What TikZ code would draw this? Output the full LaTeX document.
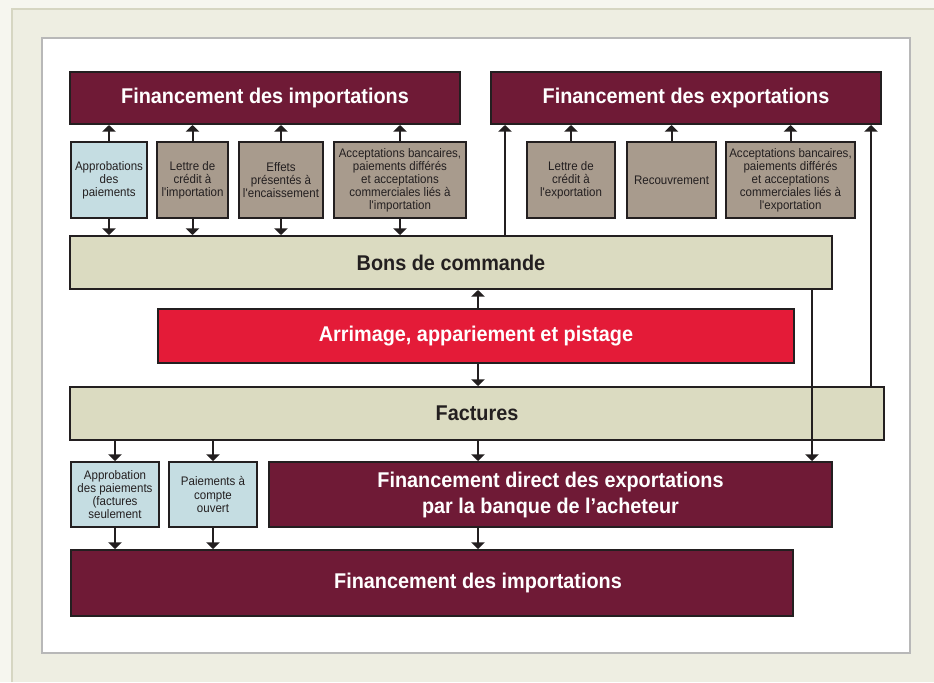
\documentclass[tikz,border=0pt]{standalone}
\usepackage{fontspec}
\setmainfont{Liberation Sans}[FakeStretch=0.93]
\usetikzlibrary{arrows.meta}
\definecolor{ink}{HTML}{231F20}
\definecolor{maroon}{HTML}{6F1A36}
\definecolor{redc}{HTML}{E41B38}
\definecolor{tan}{HTML}{A89B8D}
\definecolor{lblue}{HTML}{C5DDE2}
\definecolor{beige}{HTML}{DBDBC1}
\definecolor{pagelight}{HTML}{F6F6EF}
\definecolor{panel}{HTML}{EEEEE2}
\definecolor{panelline}{HTML}{D6D6C2}
\definecolor{frame}{HTML}{B8B8B8}
\newcommand{\mybox}[6]{\node[#1, minimum width={(#4-#2)*0.75pt}, minimum height={(#5-#3)*0.75pt}] (#6) at ({(#2+#4)/2},{(#3+#5)/2})}
\begin{document}
\begin{tikzpicture}[x=0.75pt,y=-0.75pt,
  box/.style={draw=ink, line width=1.5pt, inner sep=1pt, align=center},
  bigtext/.style={font=\fontsize{16}{19.5}\selectfont\bfseries},
  maroonbox/.style={box, bigtext, fill=maroon, text=white},
  redbox/.style={box, bigtext, fill=redc, text=white},
  beigebox/.style={box, bigtext, fill=beige, text=ink},
  smalltext/.style={font=\fontsize{9.3}{9.8}\selectfont, text=ink},
  tanbox/.style={box, smalltext, fill=tan},
  bluebox/.style={box, smalltext, fill=lblue},
  arr/.style={line width=1.5pt, draw=ink, -{Triangle[width=10pt,length=5pt]}}
]
\useasboundingbox (0,0) rectangle (934,682);
\fill[pagelight] (0,0) rectangle (934,682);
\fill[panel] (12,9) rectangle (934,682);
\draw[panelline, line width=0.8pt] (12,682) -- (12,9) -- (934,9);
\filldraw[fill=white, draw=frame, line width=1.5pt] (42,38) rectangle (910,653);

% top row
\mybox{maroonbox}{70}{72}{460}{124}{fi} {Financement des importations};
\mybox{maroonbox}{491}{72}{881}{124}{fe} {Financement des exportations};

% import small boxes
\mybox{bluebox}{71}{142}{147}{218}{i1} {Approbations\\des\\paiements};
\mybox{tanbox}{157}{142}{228}{218}{i2} {Lettre de\\crédit à\\l\textquotesingle importation};
\mybox{tanbox}{239}{142}{323}{218}{i3} {Effets\\présentés à\\l\textquotesingle encaissement};
\mybox{tanbox}{334}{142}{466}{218}{i4} {Acceptations bancaires,\\paiements différés\\et acceptations\\commerciales liés à\\l\textquotesingle importation};

% export small boxes
\mybox{tanbox}{527}{142}{615}{218}{e1} {Lettre de\\crédit à\\l\textquotesingle exportation};
\mybox{tanbox}{627}{142}{716}{218}{e2} {Recouvrement};
\mybox{tanbox}{726}{142}{855}{218}{e3} {Acceptations bancaires,\\paiements différés\\et acceptations\\commerciales liés à\\l\textquotesingle exportation};

% middle
\mybox{beigebox}{70}{236}{832}{289}{bons} {Bons de commande};
\mybox{redbox}{158}{309}{794}{363}{pist} {Arrimage, appariement et pistage};
\mybox{beigebox}{70}{387}{884}{440}{fac} {Factures};

% lower row
\mybox{bluebox}{71}{462}{159}{527}{b1} {Approbation\\des paiements\\(factures\\seulement};
\mybox{bluebox}{169}{462}{257}{527}{b2} {Paiements à\\compte\\ouvert};
\mybox{maroonbox}{269}{462}{832}{527}{fd} {Financement direct des exportations\\par la banque de l’acheteur};

% bottom
\mybox{maroonbox}{71}{550}{793}{616}{fb} {};
\node[bigtext, text=white] (fbt) at (478,583) {Financement des importations};

% coordinates for vertical connectors
\coordinate (xL) at (505,0);
\coordinate (xR) at (871,0);
\coordinate (xM) at (478,0);
\coordinate (xD) at (812,0);

% import arrows
\foreach \n in {i1,i2,i3,i4}{
  \draw[arr] (\n.north) -- (\n.north |- fi.south);
  \draw[arr] (\n.south) -- (\n.south |- bons.north);
}
% export arrows
\foreach \n in {e1,e2,e3}{
  \draw[arr] (\n.north) -- (\n.north |- fe.south);
}
\draw[arr] (xL |- bons.north) -- (xL |- fe.south);
\draw[arr] (xR |- fac.north) -- (xR |- fe.south);

% centre arrows
\draw[arr] (xM |- pist.north) -- (xM |- bons.south);
\draw[arr] (xM |- pist.south) -- (xM |- fac.north);
\draw[arr] (xD |- bons.south) -- (xD |- fd.north);

% factures down
\draw[arr] (b1.north |- fac.south) -- (b1.north);
\draw[arr] (b2.north |- fac.south) -- (b2.north);
\draw[arr] (xM |- fac.south) -- (xM |- fd.north);

% to bottom
\draw[arr] (b1.south) -- (b1.south |- fb.north);
\draw[arr] (b2.south) -- (b2.south |- fb.north);
\draw[arr] (xM |- fd.south) -- (xM |- fb.north);
\end{tikzpicture}
\end{document}
